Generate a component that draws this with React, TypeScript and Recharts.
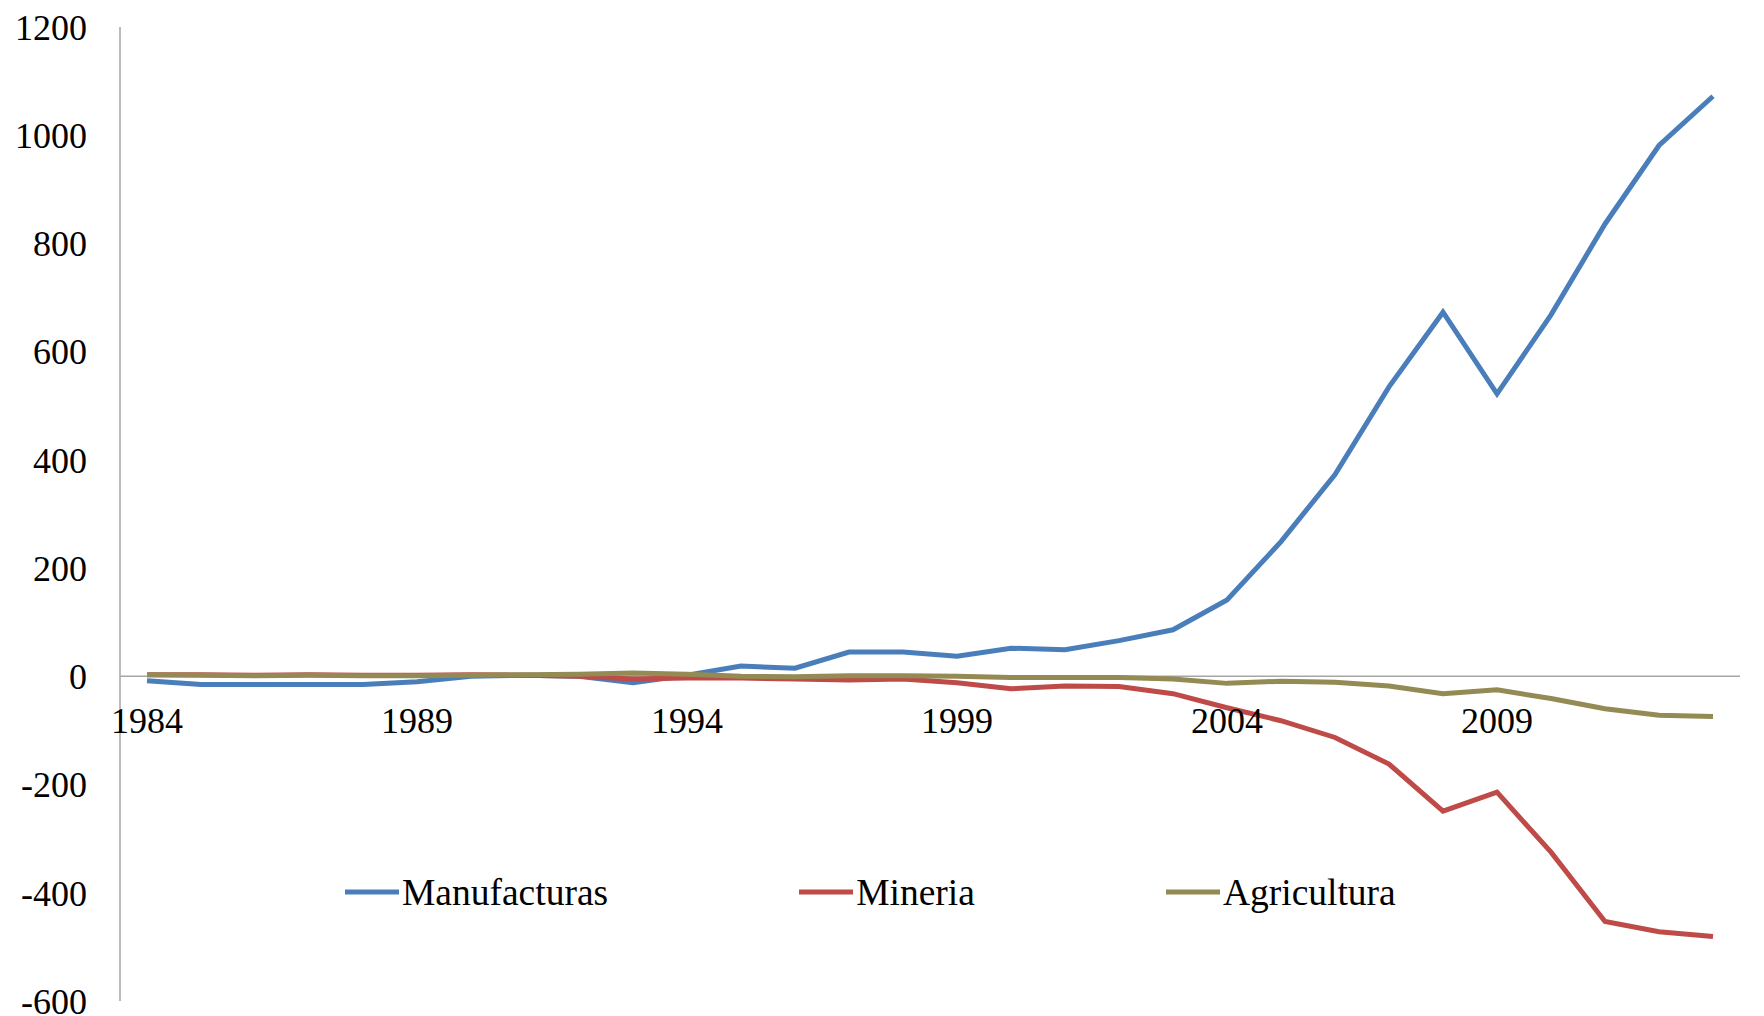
import { LineChart, Line, XAxis, YAxis, ReferenceLine } from 'recharts'

const years = [
  '1984', '1985', '1986', '1987', '1988', '1989', '1990', '1991', '1992', '1993',
  '1994', '1995', '1996', '1997', '1998', '1999', '2000', '2001', '2002', '2003',
  '2004', '2005', '2006', '2007', '2008', '2009', '2010', '2011', '2012', '2013'
]

const manufacturas = [
  -8, -15, -15, -15, -15, -10, 0, 2, 0, -12,
  2, 19, 15, 45, 45, 37, 52, 49, 66, 86,
  141, 249, 373, 535, 673, 522, 668, 836, 981, 1072
]

const mineria = [
  3, 3, 2, 3, 2, 2, 3, 2, 0, -5,
  -3, -3, -5, -7, -5, -12, -23, -18, -19, -32,
  -58, -82, -113, -162, -249, -214, -325, -453, -472, -481
]

const agricultura = [
  3, 2, 1, 2, 1, 1, 2, 3, 4, 6,
  4, 0, -1, 1, 1, 0, -2, -2, -2, -5,
  -13, -9, -11, -18, -32, -25, -41, -60, -72, -74
]

const yTicks = [-600, -400, -200, 0, 200, 400, 600, 800, 1000, 1200]

const series = [
  { key: 'Manufacturas', color: '#4A7EBB' },
  { key: 'Mineria', color: '#BE4B48' },
  { key: 'Agricultura', color: '#948A54' }
]

const W = 1764
const H = 1016
const M = { top: 27, right: 24, bottom: 0, left: 0 }
const X_AXIS_H = 15
const Y_MIN = -600
const Y_MAX = 1200
const PLOT_H = H - M.top - M.bottom - X_AXIS_H
// posición de la línea del cero, para las etiquetas de años
const ZERO_Y = M.top + (PLOT_H * Y_MAX) / (Y_MAX - Y_MIN)
const FONT = '"Liberation Serif", "Times New Roman", serif'

const chartData = years.map((y, i) => ({
  year: y,
  Manufacturas: manufacturas[i],
  Mineria: mineria[i],
  Agricultura: agricultura[i]
}))

const YearTick = (props: any) => {
  const { x, payload } = props
  return (
    <text x={x} y={ZERO_Y + 44} dy="0.355em" textAnchor="middle" fontSize={36} fontFamily={FONT} fill="#000">
      {payload.value}
    </text>
  )
}

// leyenda dentro del área del gráfico
const ChartLegend = () => (
  <div
    style={{
      position: 'absolute',
      left: 345,
      top: 892,
      transform: 'translateY(-50%)',
      display: 'flex',
      alignItems: 'center',
      gap: 191,
      fontFamily: FONT,
      fontSize: 37.5,
      whiteSpace: 'nowrap'
    }}
  >
    {series.map((s) => (
      <div key={s.key} style={{ display: 'flex', alignItems: 'center' }}>
        <span style={{ width: 54, height: 5, background: s.color, marginRight: 3 }} />
        <span style={{ color: '#000' }}>{s.key}</span>
      </div>
    ))}
  </div>
)

export default function App() {
  return (
    <div style={{ position: 'absolute', left: 0, top: 0, width: W, height: H, background: '#fff', overflow: 'hidden' }}>
      <LineChart width={W} height={H} data={chartData} margin={M} style={{ overflow: 'visible' }}>
        <XAxis
          dataKey="year"
          interval={4}
          height={X_AXIS_H}
          axisLine={false}
          tickLine={false}
          padding={{ left: 27, right: 27 }}
          tick={<YearTick />}
        />
        <YAxis
          domain={[Y_MIN, Y_MAX]}
          ticks={yTicks}
          interval={0}
          width={120}
          tickLine={false}
          tickSize={0}
          tickMargin={33}
          axisLine={{ stroke: '#A6A6A6', strokeWidth: 1.5 }}
          tick={{ fontSize: 36, fontFamily: FONT, fill: '#000' }}
        />
        <ReferenceLine y={0} stroke="#A6A6A6" strokeWidth={1.5} />
        {series.map((s) => (
          <Line
            key={s.key}
            type="linear"
            dataKey={s.key}
            stroke={s.color}
            strokeWidth={5}
            dot={false}
            isAnimationActive={false}
          />
        ))}
      </LineChart>
      <ChartLegend />
    </div>
  )
}
